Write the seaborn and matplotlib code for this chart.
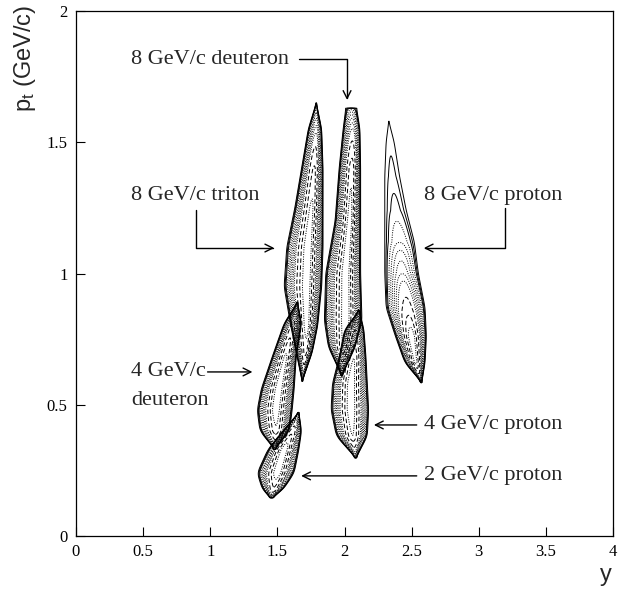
import numpy as np
import matplotlib
matplotlib.use("Agg")
import matplotlib.pyplot as plt
import seaborn as sns

# -----------------------------------
# Outlines
# pt knots (bottom tip -> top tip), left / right edge and ridge position in rapidity,
# and relative peak height along the band
# -----------------------------------
triton_pt = [0.59, 0.70, 0.80, 0.95, 1.10, 1.25, 1.40, 1.55, 1.65]
triton_lo = [1.685, 1.64, 1.60, 1.55, 1.57, 1.63, 1.68, 1.73, 1.79]
triton_hi = [1.685, 1.76, 1.80, 1.83, 1.84, 1.84, 1.84, 1.83, 1.79]
triton_top = [1.685, 1.71, 1.72, 1.72, 1.73, 1.755, 1.775, 1.79, 1.79]
triton_amp = [0.06, 0.75, 0.95, 1.0, 1.0, 0.9, 0.7, 0.25, 0.04]

deut8_pt = [0.61, 0.72, 0.82, 1.00, 1.20, 1.40, 1.55, 1.63]
deut8_lo = [1.98, 1.88, 1.85, 1.86, 1.93, 1.96, 1.99, 2.01]
deut8_hi = [1.98, 2.08, 2.13, 2.12, 2.12, 2.12, 2.115, 2.09]
deut8_top = [1.98, 1.99, 2.01, 2.01, 2.04, 2.055, 2.06, 2.05]
deut8_amp = [0.08, 0.85, 1.0, 1.0, 0.95, 0.8, 0.3, 0.035]

prot8_pt = [0.585, 0.66, 0.76, 0.87, 1.00, 1.12, 1.24, 1.37, 1.50, 1.58]
prot8_lo = [2.575, 2.45, 2.38, 2.31, 2.30, 2.30, 2.30, 2.30, 2.31, 2.33]
prot8_hi = [2.575, 2.60, 2.61, 2.60, 2.55, 2.52, 2.46, 2.41, 2.37, 2.33]
prot8_top = [2.575, 2.53, 2.50, 2.47, 2.43, 2.41, 2.38, 2.355, 2.34, 2.33]
prot8_amp = [0.1, 0.9, 1.0, 0.55, 0.22, 0.08, 0.042, 0.03, 0.025, 0.022]

deut4_pt = [0.33, 0.40, 0.48, 0.56, 0.68, 0.81, 0.89]
deut4_lo = [1.48, 1.37, 1.35, 1.38, 1.46, 1.55, 1.65]
deut4_hi = [1.48, 1.59, 1.61, 1.625, 1.64, 1.68, 1.65]
deut4_top = [1.48, 1.49, 1.49, 1.51, 1.56, 1.62, 1.65]
deut4_amp = [0.06, 0.8, 1.0, 1.0, 0.9, 0.5, 0.05]

prot4_pt = [0.297, 0.38, 0.48, 0.58, 0.68, 0.785, 0.86]
prot4_lo = [2.085, 1.94, 1.90, 1.91, 1.96, 2.00, 2.11]
prot4_hi = [2.085, 2.17, 2.18, 2.17, 2.16, 2.145, 2.11]
prot4_top = [2.085, 2.06, 2.05, 2.05, 2.07, 2.08, 2.11]
prot4_amp = [0.06, 0.85, 1.0, 1.0, 0.85, 0.45, 0.05]

prot2_pt = [0.145, 0.175, 0.24, 0.33, 0.40, 0.47]
prot2_lo = [1.455, 1.39, 1.35, 1.43, 1.54, 1.66]
prot2_hi = [1.455, 1.54, 1.625, 1.66, 1.68, 1.66]
prot2_top = [1.455, 1.47, 1.50, 1.55, 1.615, 1.66]
prot2_amp = [0.06, 0.6, 1.0, 1.0, 0.6, 0.05]

# contour levels (fraction of each band's maximum) and their line styles
levels = [0.02, 0.027, 0.036, 0.055, 0.082, 0.117, 0.164, 0.222, 0.293,
          0.45, 0.67, 0.855]
styles = ["solid", "solid", "solid", "dotted", "dotted", "dotted", "dotted",
          "dotted", "dotted", "dashed", "dashed", "dotted"]

bands = [
    (triton_pt, triton_lo, triton_hi, triton_top, triton_amp),
    (deut8_pt, deut8_lo, deut8_hi, deut8_top, deut8_amp),
    (prot8_pt, prot8_lo, prot8_hi, prot8_top, prot8_amp),
    (deut4_pt, deut4_lo, deut4_hi, deut4_top, deut4_amp),
    (prot4_pt, prot4_lo, prot4_hi, prot4_top, prot4_amp),
    (prot2_pt, prot2_lo, prot2_hi, prot2_top, prot2_amp),
]


def smooth(v, n=9):
    k = np.exp(-0.5 * (np.arange(-2 * n, 2 * n + 1) / n) ** 2)
    k /= k.sum()
    return np.convolve(np.pad(v, 2 * n, mode="edge"), k, mode="valid")


def band_density(pts, lo, hi, top, amp, Y, pp, p=2.0):
    # smooth ridge whose lowest contour follows the outline read above
    L0 = levels[0]
    inside = (pp >= pts[0]) & (pp <= pts[-1])
    c = smooth(np.interp(pp, pts, top))
    wl = smooth(np.interp(pp, pts, np.subtract(top, lo)))
    wr = smooth(np.interp(pp, pts, np.subtract(hi, top)))
    a = np.interp(pp, pts, amp) * inside
    k = (2 * np.log(np.maximum(a, L0 * 1.0001) / L0)) ** (1 / p)
    c, wl, wr, a, k = (v[:, None] for v in (c, wl, wr, a, k))
    d = Y - c
    s = np.where(d < 0, np.maximum(wl, 1e-4), np.maximum(wr, 1e-4)) / k
    return a * np.exp(-0.5 * (np.abs(d) / s) ** p)


sns.set_theme(style="ticks")
plt.rcParams["font.family"] = ["Liberation Serif", "DejaVu Serif"]
plt.rcParams["mathtext.default"] = "regular"
plt.rcParams["lines.scale_dashes"] = False
plt.rcParams["lines.dotted_pattern"] = [0.7, 1.0]
plt.rcParams["lines.dashed_pattern"] = [3.2, 1.8]

fig = plt.figure(figsize=(6.29, 5.89), dpi=100)
ax = fig.add_axes([76 / 629, 1 - 536 / 589, 537 / 629, 525 / 589])

yy = np.linspace(1.2, 2.8, 900)
pp = np.linspace(0.1, 1.7, 1000)
Y = np.broadcast_to(yy, (pp.size, yy.size))

for pts, lo, hi, top, amp in bands:
    Z = band_density(pts, lo, hi, top, amp, Y, pp)
    ax.contour(yy, pp, Z, levels=levels, colors="black", linewidths=0.7,
               linestyles=styles)

ax.set_xlim(0, 4)
ax.set_ylim(0, 2)
ax.set_xticks(np.arange(0, 4.01, 0.5))
ax.set_xticklabels(["0", "0.5", "1", "1.5", "2", "2.5", "3", "3.5", "4"])
ax.set_yticks(np.arange(0, 2.01, 0.5))
ax.set_yticklabels(["0", "0.5", "1", "1.5", "2"])
ax.tick_params(direction="in", length=6.5, width=0.8, labelsize=12,
               colors="black", pad=6, top=False, right=False)
for sp in ax.spines.values():
    sp.set_color("black")
    sp.set_linewidth(0.9)
ax.grid(False)

sans = ["Liberation Sans", "DejaVu Sans"]
fig.text(606 / 629, 1 - 575 / 589, "y", family=sans, fontsize=17,
         ha="center", va="center")
fig.text(25 / 629, 1 - 5 / 589, "p$_t$ (GeV/c)", family=sans, fontsize=17,
         rotation=90, ha="center", va="top")

# -----------------------------------
# Labels with arrows
# -----------------------------------
fs = 16
arrow = dict(arrowstyle="->", color="black", lw=1.0, shrinkA=0, shrinkB=0,
             mutation_scale=14)

ax.text(0.41, 1.817, "8 GeV/c deuteron", fontsize=fs, va="center")
ax.annotate("", xy=(2.019, 1.661), xytext=(1.662, 1.817),
            arrowprops=dict(arrow, connectionstyle="angle,angleA=0,angleB=90,rad=0"))

ax.text(0.41, 1.299, "8 GeV/c triton", fontsize=fs, va="center")
ax.annotate("", xy=(1.477, 1.097), xytext=(0.891, 1.242),
            arrowprops=dict(arrow, connectionstyle="angle,angleA=90,angleB=0,rad=0"))

ax.text(2.59, 1.299, "8 GeV/c proton", fontsize=fs, va="center")
ax.annotate("", xy=(2.590, 1.097), xytext=(3.199, 1.250),
            arrowprops=dict(arrow, connectionstyle="angle,angleA=90,angleB=0,rad=0"))

ax.text(0.41, 0.625, "4 GeV/c", fontsize=fs, va="center")
ax.text(0.41, 0.518, "deuteron", fontsize=fs, va="center")
ax.annotate("", xy=(1.314, 0.625), xytext=(0.980, 0.625), arrowprops=arrow)

ax.text(2.59, 0.423, "4 GeV/c proton", fontsize=fs, va="center")
ax.annotate("", xy=(2.219, 0.423), xytext=(2.538, 0.423), arrowprops=arrow)

ax.text(2.59, 0.229, "2 GeV/c proton", fontsize=fs, va="center")
ax.annotate("", xy=(1.677, 0.229), xytext=(2.538, 0.229), arrowprops=arrow)

fig.savefig("out.png", dpi=100, facecolor="white")
